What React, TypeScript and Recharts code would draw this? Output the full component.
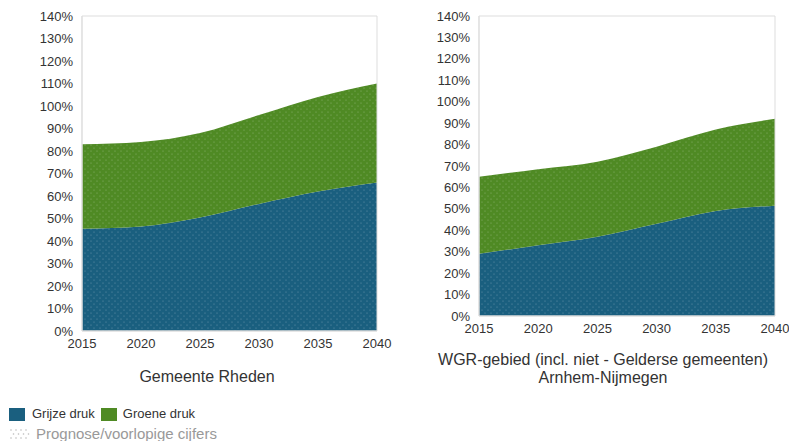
import { Area, AreaChart, ReferenceArea, XAxis, YAxis } from "recharts";

const years = [2015, 2020, 2025, 2030, 2035, 2040];
const yTicks = [0, 10, 20, 30, 40, 50, 60, 70, 80, 90, 100, 110, 120, 130, 140];

const rhedenGrijs = [45.5, 46.5, 50.5, 56.5, 62, 66];
const rhedenGroen = [37.5, 37.5, 37.5, 39.5, 42, 44];
const wgrGrijs = [29, 33, 37, 43, 49, 51.5];
const wgrGroen = [36, 35.5, 35, 36, 38, 40.5];

const BLUE = "#1a5f7f";
const GREEN = "#4f8a24";
const FONT = '"Liberation Sans", Arial, sans-serif';

const build = (grijs: number[], groen: number[]) =>
  years.map((year, i) => ({ year, grijs: grijs[i], groen: groen[i] }));

function Patterns({ id }: { id: string }) {
  return (
    <defs>
      {[
        ["blue", BLUE],
        ["green", GREEN],
      ].map(([k, c]) => (
        <pattern key={k} id={`${id}-${k}`} width="6" height="6" patternUnits="userSpaceOnUse">
          <rect width="6" height="6" fill={c} />
          <circle cx="1" cy="1" r="0.55" fill="#ffffff" fillOpacity={0.35} />
          <circle cx="4" cy="4" r="0.55" fill="#ffffff" fillOpacity={0.35} />
        </pattern>
      ))}
    </defs>
  );
}

type PanelProps = {
  id: string;
  grijs: number[];
  groen: number[];
  width: number;
  height: number;
  yWidth: number;
  right: number;
};

function Panel({ id, grijs, groen, width, height, yWidth, right }: PanelProps) {
  const tick = { fill: "#333", fontSize: 13, fontFamily: FONT };
  return (
    <AreaChart
      width={width}
      height={height}
      data={build(grijs, groen)}
      margin={{ top: 16, right, left: 0, bottom: 0 }}
    >
      <Patterns id={id} />
      <XAxis
        dataKey="year"
        type="number"
        domain={[2015, 2040]}
        ticks={years}
        height={20}
        tickLine={false}
        tickSize={6}
        tickMargin={2}
        axisLine={{ stroke: "#dddddd" }}
        tick={tick}
        interval={0}
      />
      <YAxis
        domain={[0, 140]}
        ticks={yTicks}
        width={yWidth}
        tickLine={false}
        tickSize={6}
        tickMargin={3}
        axisLine={{ stroke: "#dddddd" }}
        tick={tick}
        interval={0}
        tickFormatter={(v: number) => `${v}%`}
      />
      <Area
        type="monotone"
        dataKey="grijs"
        stackId="a"
        stroke="none"
        fill={`url(#${id}-blue)`}
        fillOpacity={1}
        isAnimationActive={false}
      />
      <Area
        type="monotone"
        dataKey="groen"
        stackId="a"
        stroke="none"
        fill={`url(#${id}-green)`}
        fillOpacity={1}
        isAnimationActive={false}
      />
      <ReferenceArea x1={2015} x2={2040} y1={0} y2={140} fill="none" stroke="#dddddd" />
    </AreaChart>
  );
}

export default function App() {
  return (
    <div
      style={{
        position: "absolute",
        left: 0,
        top: 0,
        width: 789,
        height: 441,
        background: "#fff",
        fontFamily: FONT,
        overflow: "hidden",
      }}
    >
      <div style={{ position: "absolute", left: 0, top: 0 }}>
        <Panel id="rh" grijs={rhedenGrijs} groen={rhedenGroen} width={400} height={351} yWidth={82} right={23} />
      </div>
      <div style={{ position: "absolute", left: 400, top: 0 }}>
        <Panel id="wgr" grijs={wgrGrijs} groen={wgrGroen} width={389} height={336} yWidth={79} right={14} />
      </div>
      <div
        style={{
          position: "absolute",
          left: 107,
          width: 200,
          top: 367,
          textAlign: "center",
          fontSize: 16,
          lineHeight: "20px",
          color: "#333",
        }}
      >
        Gemeente Rheden
      </div>
      <div
        style={{
          position: "absolute",
          left: 403,
          width: 400,
          top: 351,
          textAlign: "center",
          fontSize: 16,
          lineHeight: "18px",
          color: "#333",
        }}
      >
        WGR-gebied (incl. niet - Gelderse gemeenten)
        <br />
        Arnhem-Nijmegen
      </div>
      <div
        style={{
          position: "absolute",
          left: 9,
          top: 406,
          display: "flex",
          alignItems: "center",
          fontSize: 13,
          color: "#333",
          lineHeight: "16px",
        }}
      >
        <span style={{ width: 16, height: 13, background: BLUE, display: "inline-block", marginRight: 7 }} />
        <span style={{ marginRight: 6 }}>Grijze druk</span>
        <span style={{ width: 16, height: 13, background: GREEN, display: "inline-block", marginRight: 6 }} />
        <span>Groene druk</span>
      </div>
      <div
        style={{
          position: "absolute",
          left: 9,
          top: 425,
          display: "flex",
          alignItems: "center",
          fontSize: 15,
          color: "#999",
          lineHeight: "18px",
        }}
      >
        <svg width={22} height={12} style={{ marginRight: 5 }}>
          {[0, 1, 2, 3].map((c) =>
            [0, 1, 2].map((r) => (
              <circle key={`${c}-${r}`} cx={2 + c * 5 + (r % 2) * 2.5} cy={2 + r * 4} r={0.8} fill="#bbb" />
            ))
          )}
        </svg>
        Prognose/voorlopige cijfers
      </div>
    </div>
  );
}
